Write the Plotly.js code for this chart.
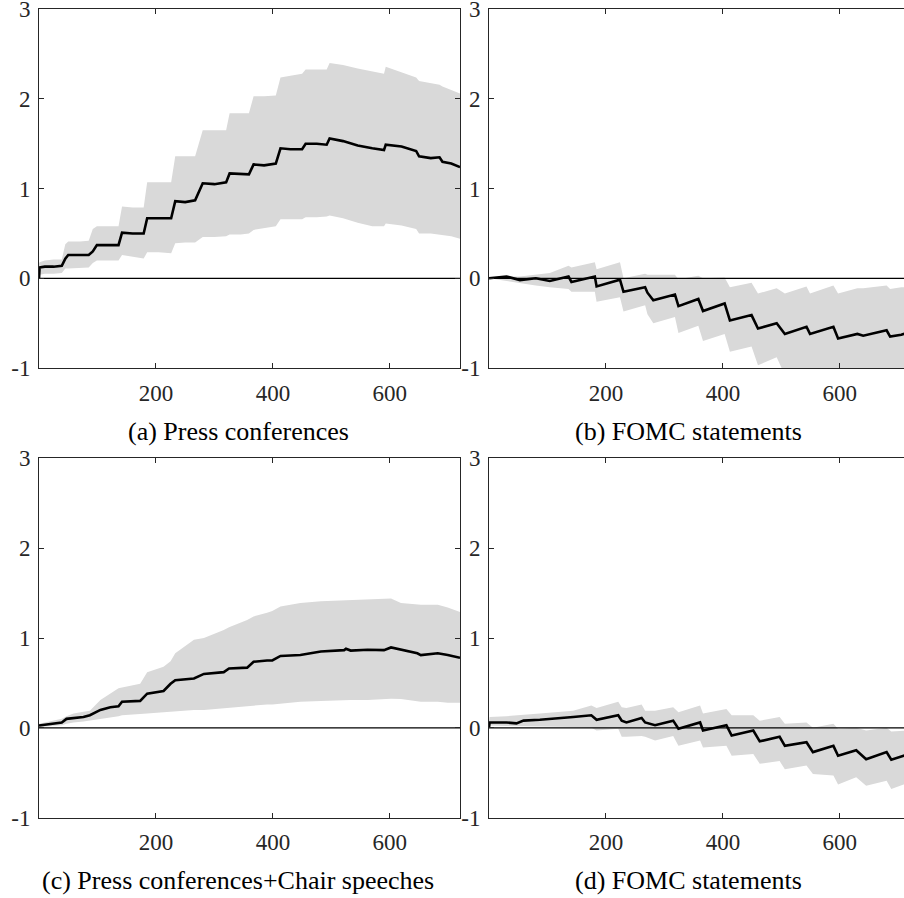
<!DOCTYPE html>
<html>
<head>
<meta charset="utf-8">
<script src="https://cdn.plot.ly/plotly-3.0.1.min.js"></script>
<style>
html,body{margin:0;padding:0;background:#fff;overflow:hidden;}
#wrap{width:904px;height:898px;overflow:hidden;position:relative;}
#chart{width:916px;height:898px;}
</style>
</head>
<body>
<div id="wrap"><div id="chart"></div></div>
<script>
// ---------- data ----------
// Panel (a) Press conferences
const xA    = [0,1,10,25,39,45,50,70,85,92,99,120,136,142,160,179,185,205,226,233,250,267,280,300,320,326,345,359,367,385,405,413,430,450,456,475,492,497,520,545,570,590,593,620,645,650,670,685,690,705,720];
const meanA = [0,0.12,0.13,0.13,0.14,0.22,0.26,0.26,0.26,0.30,0.37,0.37,0.37,0.51,0.50,0.50,0.67,0.67,0.67,0.86,0.85,0.87,1.06,1.05,1.07,1.17,1.16,1.16,1.27,1.26,1.28,1.45,1.44,1.44,1.50,1.50,1.49,1.56,1.53,1.48,1.45,1.43,1.49,1.47,1.42,1.36,1.34,1.35,1.30,1.28,1.24];
const hiA   = [0.17,0.18,0.20,0.21,0.21,0.38,0.41,0.41,0.42,0.55,0.58,0.58,0.58,0.80,0.79,0.79,1.07,1.07,1.07,1.36,1.36,1.36,1.65,1.65,1.65,1.84,1.84,1.84,2.03,2.03,2.04,2.24,2.26,2.28,2.33,2.33,2.33,2.40,2.38,2.34,2.31,2.28,2.36,2.30,2.24,2.20,2.18,2.16,2.14,2.10,2.06];
const loA   = [0.04,0.04,0.05,0.05,0.06,0.11,0.11,0.12,0.12,0.17,0.20,0.20,0.20,0.26,0.24,0.22,0.29,0.29,0.28,0.39,0.40,0.40,0.46,0.46,0.47,0.49,0.49,0.50,0.54,0.56,0.58,0.66,0.66,0.66,0.68,0.68,0.69,0.70,0.67,0.62,0.58,0.58,0.61,0.59,0.55,0.50,0.50,0.49,0.48,0.47,0.44];

// Panel (b) FOMC statements
const xB    = [0,30,53,80,104,136,141,181,184,224,230,267,271,281,318,324,358,366,403,412,449,460,492,506,543,549,589,597,630,640,680,686,705,720];
const meanB = [0,0.02,-0.02,0,-0.03,0.02,-0.04,0.02,-0.09,-0.015,-0.15,-0.10,-0.16,-0.245,-0.18,-0.31,-0.23,-0.365,-0.28,-0.47,-0.41,-0.56,-0.50,-0.62,-0.54,-0.62,-0.54,-0.67,-0.62,-0.64,-0.58,-0.65,-0.63,-0.60];
const hiB   = [0,0.02,0.02,0.04,0.06,0.14,0.12,0.18,0.10,0.18,0,0.05,0.04,0.04,0.04,-0.01,0.03,0,0.01,-0.10,-0.05,-0.17,-0.11,-0.17,-0.09,-0.17,-0.08,-0.17,-0.11,-0.11,-0.08,-0.12,-0.10,-0.10];
const loB   = [0,-0.03,-0.06,-0.08,-0.10,-0.12,-0.15,-0.15,-0.26,-0.21,-0.37,-0.30,-0.40,-0.50,-0.43,-0.61,-0.53,-0.70,-0.62,-0.82,-0.76,-0.97,-0.88,-1.08,-1.02,-1.10,-1.05,-1.15,-1.10,-1.12,-1.08,-1.12,-1.10,-1.10];

// Panel (c) Press conferences+Chair speeches
const xC    = [0,19,39,47,59,76,87,105,122,136,142,173,185,213,225,233,265,282,316,325,356,367,390,399,413,447,482,522,525,533,562,590,602,619,647,653,682,699,720];
const meanC = [0.026,0.04,0.06,0.10,0.11,0.12,0.14,0.20,0.23,0.24,0.29,0.30,0.38,0.41,0.49,0.53,0.55,0.60,0.62,0.66,0.67,0.735,0.75,0.75,0.80,0.81,0.85,0.865,0.88,0.86,0.87,0.865,0.895,0.87,0.83,0.81,0.83,0.81,0.78];
const hiC   = [0.045,0.07,0.10,0.13,0.16,0.18,0.19,0.31,0.38,0.44,0.45,0.49,0.62,0.68,0.74,0.83,0.98,1.00,1.09,1.12,1.20,1.24,1.28,1.30,1.35,1.39,1.41,1.42,1.42,1.42,1.43,1.43,1.44,1.39,1.38,1.37,1.37,1.34,1.29];
const loC   = [0.01,0.02,0.03,0.045,0.06,0.07,0.08,0.10,0.12,0.13,0.14,0.15,0.16,0.175,0.18,0.19,0.20,0.20,0.22,0.23,0.24,0.25,0.26,0.26,0.27,0.29,0.30,0.31,0.31,0.31,0.31,0.32,0.325,0.32,0.29,0.29,0.29,0.28,0.28];

// Panel (d) FOMC statements
const xD    = [0,1,30,47,59,87,144,175,184,221,227,235,261,267,284,315,324,361,366,406,415,452,463,497,506,543,554,589,597,628,645,680,688,709,720];
const meanD = [0,0.06,0.06,0.05,0.08,0.09,0.12,0.14,0.09,0.14,0.08,0.06,0.11,0.06,0.03,0.08,-0.01,0.06,-0.03,0.03,-0.085,-0.03,-0.15,-0.10,-0.20,-0.16,-0.27,-0.20,-0.31,-0.25,-0.35,-0.27,-0.355,-0.31,-0.30];
const hiD   = [0.08,0.12,0.13,0.14,0.15,0.16,0.19,0.25,0.22,0.29,0.23,0.22,0.26,0.19,0.19,0.23,0.175,0.25,0.16,0.21,0.14,0.14,0.08,0.12,0.045,0.06,0,0.045,-0.01,0,-0.03,0,-0.04,-0.03,-0.03];
const loD   = [0.02,0.025,0.02,0.02,0.02,0.015,0.01,0,-0.03,-0.01,-0.10,-0.10,-0.09,-0.10,-0.14,-0.09,-0.20,-0.14,-0.22,-0.20,-0.31,-0.29,-0.40,-0.37,-0.46,-0.42,-0.515,-0.53,-0.63,-0.55,-0.645,-0.59,-0.68,-0.63,-0.63];

const xRange = [0, 720];
const yRange = [-1, 3];
const zeroRef = [0, 0];
const xTickVals = [200, 400, 600];
const xTickText = ['200', '400', '600'];
const yTickVals = [-1, 0, 1, 2, 3];
const yTickText = ['-1', '0', '1', '2', '3'];
const captions = ['(a) Press conferences', '(b) FOMC statements', '(c) Press conferences+Chair speeches', '(d) FOMC statements'];

// ---------- layout helpers ----------
const W = 916, H = 898;
const BAND = '#d9d9d9', AX = '#262626';
const panels = [
  {x: xA, m: meanA, lo: loA, hi: hiA, xa: 'x',  ya: 'y'},
  {x: xB, m: meanB, lo: loB, hi: hiB, xa: 'x2', ya: 'y2'},
  {x: xC, m: meanC, lo: loC, hi: hiC, xa: 'x3', ya: 'y3'},
  {x: xD, m: meanD, lo: loD, hi: hiD, xa: 'x4', ya: 'y4'}
];
const traces = [];
panels.forEach(p => {
  traces.push({x: p.x, y: p.lo, xaxis: p.xa, yaxis: p.ya, type: 'scatter', mode: 'lines',
    line: {width: 0, color: BAND}, hoverinfo: 'skip', showlegend: false});
  traces.push({x: p.x, y: p.hi, xaxis: p.xa, yaxis: p.ya, type: 'scatter', mode: 'lines',
    line: {width: 0, color: BAND}, fill: 'tonexty', fillcolor: BAND, hoverinfo: 'skip', showlegend: false});
  traces.push({x: xRange, y: zeroRef, xaxis: p.xa, yaxis: p.ya, type: 'scatter', mode: 'lines',
    line: {width: 1.1, color: '#000'}, hoverinfo: 'skip', showlegend: false});
  traces.push({x: p.x, y: p.m, xaxis: p.xa, yaxis: p.ya, type: 'scatter', mode: 'lines',
    line: {width: 2.6, color: '#000'}, showlegend: false});
});

const tickFont = {family: 'Liberation Serif, Times New Roman, serif', size: 23, color: '#262626'};
function xax(l, r, anchor) {
  return {domain: [l / W, r / W], range: xRange, anchor: anchor, showgrid: false, zeroline: false,
    showline: true, linecolor: AX, linewidth: 1, mirror: 'ticks', ticks: 'inside', ticklen: 5,
    tickcolor: AX, tickwidth: 1, tickmode: 'array', tickvals: xTickVals, ticktext: xTickText,
    tickfont: tickFont, ticklabelstandoff: 4, ticklabeloverflow: 'allow', automargin: false, fixedrange: true};
}
function yax(top, bot, anchor) {
  return {domain: [1 - bot / H, 1 - top / H], range: yRange, anchor: anchor, showgrid: false, zeroline: false,
    showline: true, linecolor: AX, linewidth: 1, mirror: 'ticks', ticks: 'inside', ticklen: 5,
    tickcolor: AX, tickwidth: 1, tickmode: 'array', tickvals: yTickVals, ticktext: yTickText,
    tickfont: tickFont, ticklabelstandoff: 3, ticklabeloverflow: 'allow', automargin: false, fixedrange: true};
}
const capFont = {family: 'Liberation Serif, Times New Roman, serif', size: 26, color: '#000'};
const capPos = [[238, 431], [688.5, 431], [238, 880], [688.5, 880]];
const annotations = captions.map((t, i) => ({text: t, xref: 'paper', yref: 'paper',
  x: capPos[i][0] / W, y: 1 - capPos[i][1] / H, xanchor: 'center', yanchor: 'middle',
  showarrow: false, font: capFont}));

const layout = {
  width: W, height: H, margin: {l: 0, r: 0, t: 0, b: 0, pad: 0},
  paper_bgcolor: '#fff', plot_bgcolor: '#fff', showlegend: false,
  xaxis:  xax(39, 460, 'y'),   yaxis:  yax(9.3, 368, 'x'),
  xaxis2: xax(489, 910, 'y2'), yaxis2: yax(9.3, 368, 'x2'),
  xaxis3: xax(39, 460, 'y3'),  yaxis3: yax(458.3, 817.7, 'x3'),
  xaxis4: xax(489, 910, 'y4'), yaxis4: yax(458.3, 817.7, 'x4'),
  annotations: annotations
};
Plotly.newPlot('chart', traces, layout, {staticPlot: true, displayModeBar: false});
</script>
</body>
</html>
